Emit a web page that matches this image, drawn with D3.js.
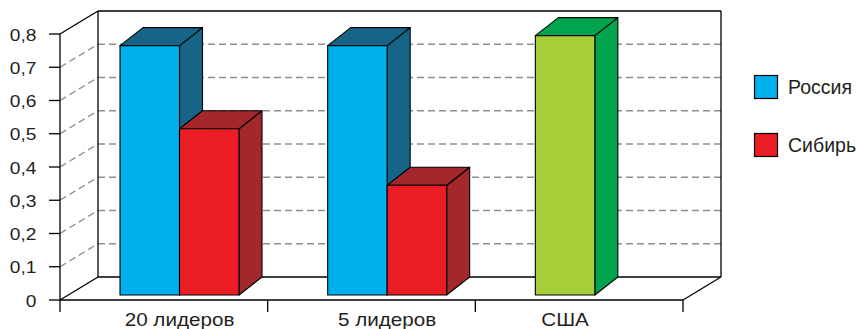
<!DOCTYPE html>
<html>
<head>
<meta charset="utf-8">
<script src="https://cdn.jsdelivr.net/npm/d3@7"></script>
<style>
  html, body { margin: 0; padding: 0; background: #fff; }
  svg { display: block; }
  text { font-family: "Liberation Sans", Arial, sans-serif; fill: #231f20; }
</style>
</head>
<body>
<svg id="chart" width="857" height="329"></svg>
<script>
// Share of income, three groups
const categories = ["20 лидеров", "5 лидеров", "США"];
const russia  = [0.75, 0.75, null];
const siberia = [0.5, 0.33, null];
const usa     = [null, null, 0.78];
const yTicks  = [0, 0.1, 0.2, 0.3, 0.4, 0.5, 0.6, 0.7, 0.8];
const legendNames = ["Россия", "Сибирь"];

const series = [
  { name: "Россия", values: russia,  front: "#00b0ec", dark: "#176489" },
  { name: "Сибирь", values: siberia, front: "#ec1c24", dark: "#a3282e" },
  { name: "США",    values: usa,     front: "#a6ce39", dark: "#00a44e" }
];

const svg = d3.select("#chart");

// front plane of the box and its depth offset
const x = d3.scaleBand().domain(categories).range([60, 683]).padding(0);
const y = d3.scaleLinear().domain([0, 0.8]).range([300, 34]);
const wall = { dx: 38, dy: -23 };
// bars stand against the back wall, with their own depth
const barDepth = { dx: 23, dy: -18 };
const barW = 59.5;
const barInset = 60;
const yBar = v => y(v) + wall.dy - barDepth.dy;   // front face of bars

const fmt = v => d3.format(".1f")(v).replace(".", ",").replace(/^0,0$/, "0");
const x0 = x.range()[0], x1 = x.range()[1];
const ymin = y(0), ymax = y(0.8);

// dashed grid on back wall and left wall
const grid = svg.append("g")
  .attr("stroke", "#8e8e8e").attr("stroke-width", 1.3)
  .attr("stroke-dasharray", "7,4").attr("fill", "none");
yTicks.filter(t => t > 0 && t < 0.8).forEach(t => {
  grid.append("line")
    .attr("x1", x0 + wall.dx).attr("x2", x1 + wall.dx)
    .attr("y1", y(t) + wall.dy).attr("y2", y(t) + wall.dy);
  grid.append("line")
    .attr("x1", x0).attr("y1", y(t))
    .attr("x2", x0 + wall.dx).attr("y2", y(t) + wall.dy);
});

// box edges
const edges = svg.append("g").attr("stroke", "#000").attr("stroke-width", 1.3).attr("fill", "none");
const seg = (a, b, c, d) => edges.append("line").attr("x1", a).attr("y1", b).attr("x2", c).attr("y2", d);
seg(x0 + wall.dx, ymax + wall.dy, x1 + wall.dx, ymax + wall.dy);     // back top
seg(x0 + wall.dx, ymax + wall.dy, x0 + wall.dx, ymin + wall.dy);     // back left
seg(x1 + wall.dx, ymax + wall.dy, x1 + wall.dx, ymin + wall.dy);     // back right
seg(x0 + wall.dx, ymin + wall.dy, x1 + wall.dx, ymin + wall.dy);     // floor back
seg(x0, ymax, x0 + wall.dx, ymax + wall.dy);                         // left wall top
seg(x0, ymin, x0 + wall.dx, ymin + wall.dy);                         // floor left
seg(x1, ymin, x1 + wall.dx, ymin + wall.dy);                         // floor right
seg(x0, ymin, x1, ymin);                                             // floor front

// y axis
const yAxis = svg.append("g");
yAxis.append("line").attr("x1", x0).attr("x2", x0).attr("y1", ymax).attr("y2", ymin)
  .attr("stroke", "#000").attr("stroke-width", 1.3);
yTicks.forEach(t => {
  yAxis.append("line").attr("x1", x0 - 11).attr("x2", x0).attr("y1", y(t)).attr("y2", y(t))
    .attr("stroke", "#000").attr("stroke-width", 1.3);
  yAxis.append("g").attr("transform", `translate(${x0 - 23.5},${y(t) + 6.5}) scale(1.13,1)`)
    .append("text").attr("text-anchor", "end").attr("font-size", 17).text(fmt(t));
});

// category ticks
const tickXs = categories.map(c => x(c)).concat([x1]);
tickXs.forEach(tx => {
  svg.append("line").attr("x1", tx).attr("x2", tx).attr("y1", ymin).attr("y2", ymin + 12)
    .attr("stroke", "#000").attr("stroke-width", 1.3);
});

// bars
const bars = svg.append("g").attr("stroke", "#000").attr("stroke-width", 1.1).attr("stroke-linejoin", "round");
categories.forEach((c, i) => {
  const present = series.filter(s => s.values[i] != null);
  const start = x(c) + barInset;
  present.forEach((s, k) => {
    const v = s.values[i];
    const L = start + k * barW, R = L + barW;
    const T = yBar(v), B = yBar(0);
    const dx = barDepth.dx, dy = barDepth.dy;
    bars.append("path").attr("fill", s.dark)
      .attr("d", `M${R},${T}L${R + dx},${T + dy}L${R + dx},${B + dy}L${R},${B}Z`);
    bars.append("path").attr("fill", s.dark)
      .attr("d", `M${L},${T}L${L + dx},${T + dy}L${R + dx},${T + dy}L${R},${T}Z`);
    bars.append("rect").attr("fill", s.front)
      .attr("x", L).attr("y", T).attr("width", barW).attr("height", B - T);
  });
  const cx = start + present.length * barW / 2;
  svg.append("g").attr("transform", `translate(${cx},326) scale(1.18,1)`)
    .append("text").attr("text-anchor", "middle").attr("font-size", 17.5).text(c);
});

// legend
const legend = svg.append("g");
legendNames.forEach((n, i) => {
  const s = series.find(d => d.name === n);
  const ly = 75.5 + i * 58;
  legend.append("rect").attr("x", 754.5).attr("y", ly).attr("width", 23).attr("height", 23)
    .attr("fill", s.front).attr("stroke", "#000").attr("stroke-width", 1.2);
  legend.append("text").attr("x", 788).attr("y", ly + 18).attr("font-size", 19.5).text(n);
});
</script>
</body>
</html>
